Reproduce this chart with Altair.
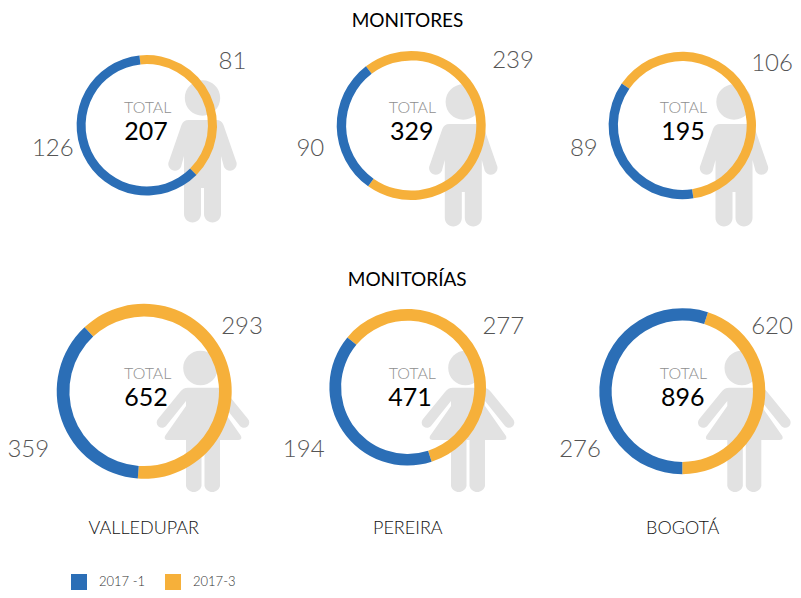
import altair as alt
import pandas as pd

M = 8  # page margin
W, H = 785, 582

cities = ["VALLEDUPAR", "PEREIRA", "BOGOTÁ"]
series = ["2017 -1", "2017-3"]
series_colors = ["#2b6eb6", "#f6b03a"]

# donuts: monitores (3) then monitorías (3)
totals = [207, 329, 195, 652, 471, 896]
blue_labels = [126, 90, 89, 359, 194, 276]
orange_labels = [81, 239, 106, 293, 277, 620]
# ring split angles as drawn, degrees clockwise from 12 o'clock
orange_start = [-6, -37.4, -55.3, -43, -50.4, 18]
orange_end = [135, 215.3, 171.3, 184.2, 162.2, 180]
# ring geometry
cx = [146.8, 411.2, 682.3, 144.2, 407.7, 682.3]
cy = [125.3, 125.5, 125.5, 391.3, 387.3, 391.2]
outer = [70.2, 74.5, 73.7, 87.5, 78.3, 83]
width_ring = [9, 9.4, 9.3, 12.7, 11.7, 12.3]
# text anchors
total_x = [147.7, 412.5, 683.5, 147.7, 412.3, 683.5]
total_y = [106, 106, 106, 372, 372, 372]
num_x = [146, 411.7, 683, 146, 410, 682.7]
num_y = [130, 130, 130, 396, 396, 396]
blue_x = [52.8, 310.3, 583.8, 28.3, 303.7, 580]
blue_y = [147.5, 147.5, 147.5, 448, 448, 448]
orange_x = [232.5, 513, 772, 242, 503.3, 772]
orange_y = [60, 59, 62, 325, 325, 325]
# pictograms
male_x = [202.5, 463.3, 734]
male_y = [98, 102, 102]
female_x = [203, 468, 744.3]
female_y = [368, 368, 368]

headings = ["MONITORES", "MONITORÍAS"]
heading_x = [407.5, 407.2]
heading_y = [19, 278]
city_x = [143.8, 407.8, 682.7]
city_y = [527.5, 527.5, 527]

MALE = ("M-17.7,0A17.7,17.7 0 1,1 17.7,0A17.7,17.7 0 1,1 -17.7,0Z "
        "M-14,22H14Q19,22 21,27L33.5,63A6.5,6.5 0 0 1 21.5,69L18.5,58V116A8.5,8.5 0 0 1 1.5,116V90H-1.5V116"
        "A8.5,8.5 0 0 1 -18.5,116V58L-21.5,69A6.5,6.5 0 0 1 -33.5,63L-21,27Q-19,22 -14,22Z")
FEMALE = ("M-19.8,0A17.3,17.3 0 1,1 14.8,0A17.3,17.3 0 1,1 -19.8,0Z "
          "M-15,19.7H15Q20,19.7 23,24L45,51A5,5 0 0 1 37,58L17,33V38L38,68Q39.5,72 35,72H17V118"
          "A8,8 0 0 1 1.5,118V72H-1.5V118A8,8 0 0 1 -17,118V72H-35Q-39.5,72 -38,68L-17,38V33L-37,58"
          "A5,5 0 0 1 -45,51L-23,24Q-20,19.7 -15,19.7Z")

FONT = "Lato"
px = lambda f: alt.X(f, type="quantitative", scale=None, axis=None)
py = lambda f: alt.Y(f, type="quantitative", scale=None, axis=None)

rows = []
for i in range(6):
    base = dict(x=cx[i] - M, y=cy[i] - M, r=outer[i], r2=outer[i] - width_ring[i])
    rows.append(dict(base, period=series[1], a=orange_start[i], b=orange_end[i]))
    rows.append(dict(base, period=series[0], a=orange_end[i], b=orange_start[i] + 360))
rings = pd.DataFrame(rows)

def icons(xs, ys, shape):
    d = pd.DataFrame({"x": [v - M for v in xs], "y": [v - M for v in ys]})
    return alt.Chart(d).mark_point(shape=shape, filled=True, size=4, color="#e2e2e2",
                                   opacity=1, strokeWidth=0).encode(x=px("x"), y=py("y"))

def texts(xs, ys, labels, size, color, weight):
    d = pd.DataFrame({"x": [v - M for v in xs], "y": [v - M for v in ys], "t": [str(v) for v in labels]})
    return alt.Chart(d).mark_text(font=FONT, fontSize=size, color=color, fontWeight=weight, dy=1.5,
                                  align="center", baseline="middle").encode(
        x=px("x"), y=py("y"), text="t:N")

arcs = alt.Chart(rings).mark_arc(stroke=None).encode(
    x=px("x"), y=py("y"),
    theta=alt.Theta("a:Q", scale=alt.Scale(domain=[0, 360], range=[0, 6.283185307]), stack=None),
    theta2="b:Q",
    radius=alt.Radius("r:Q", scale=None),
    radius2="r2:Q",
    color=alt.Color("period:N", scale=alt.Scale(domain=series, range=series_colors),
                    legend=alt.Legend(orient="none", legendX=63, legendY=566, direction="horizontal",
                                      title=None, symbolType="square", symbolSize=256, symbolStrokeWidth=0,
                                      symbolOpacity=1, labelFont=FONT, labelFontSize=13, labelFontWeight=300,
                                      labelColor="#333333", labelOffset=12, columnPadding=19, padding=0,
                                      symbolOffset=0)),
)

chart = alt.layer(
    icons(male_x, male_y, MALE),
    icons(female_x, female_y, FEMALE),
    arcs,
    texts(total_x, total_y, ["TOTAL"] * 6, 16, "#8f8f8f", 300),
    texts(num_x, num_y, totals, 25, "#000000", 400),
    texts(blue_x, blue_y, blue_labels, 24, "#555555", 300),
    texts(orange_x, orange_y, orange_labels, 24, "#555555", 300),
    texts(heading_x, heading_y, headings, 19, "#000000", 400),
    texts(city_x, city_y, cities, 18, "#111111", 300),
).properties(
    width=W, height=H, padding=0, autosize=alt.AutoSizeParams(type="none"), background="white"
).configure_view(stroke=None)

chart.save("out.html", embed_options={"renderer": "svg", "actions": False})
